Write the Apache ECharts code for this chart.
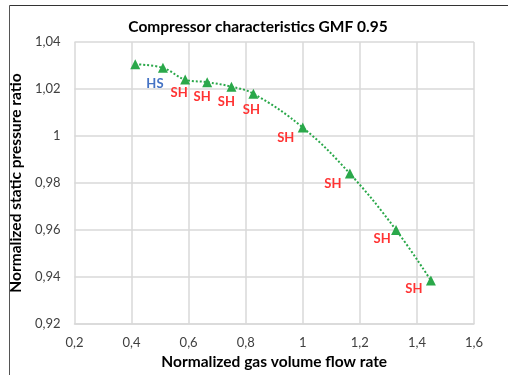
<!DOCTYPE html>
<html>
<head>
<meta charset="utf-8">
<script src="https://cdn.jsdelivr.net/npm/echarts@6/dist/echarts.min.js"></script>
<style>html,body{margin:0;padding:0;background:#fff;}#c{width:508px;height:375px;}</style>
</head>
<body>
<div id="c"></div>
<script>
// Data
var flowRate = [0.413, 0.51, 0.588, 0.665, 0.75, 0.827, 1.0, 1.165, 1.327, 1.449];
var pressureRatio = [1.0305, 1.029, 1.024, 1.0229, 1.021, 1.018, 1.0036, 0.984, 0.960, 0.9385];
var pointLabels = ['', 'HS', 'SH', 'SH', 'SH', 'SH', 'SH', 'SH', 'SH', 'SH'];
// label placement (style only)
var labelOffsets = [[0,0],[-8,16],[-6,13],[-5,15],[-5,15],[-2,16],[-17,10],[-17,10],[-14,9],[-17,8]];

var FONT = 'Lato';
function fmt(v){ return String(+(+v).toFixed(2)).replace('.', ','); }

var data = flowRate.map(function(x, i){
  return {
    value: [x, pressureRatio[i]],
    label: {
      show: pointLabels[i] !== '',
      offset: labelOffsets[i],
      color: pointLabels[i] === 'HS' ? '#4472c4' : '#ff3333'
    }
  };
});

var chart = echarts.init(document.getElementById('c'), null, {renderer: 'canvas'});
chart.setOption({
  animation: false,
  backgroundColor: '#fff',
  title: {
    text: 'Compressor characteristics GMF 0.95',
    left: 253, top: 14, textAlign: 'center',
    textStyle: {fontFamily: FONT, fontWeight: 'bold', fontSize: 15.5, color: '#000'}
  },
  grid: {left: 73, right: 34, top: 42, bottom: 47, containLabel: false},
  xAxis: {
    type: 'value', min: 0.2, max: 1.6, interval: 0.2,
    name: 'Normalized gas volume flow rate', nameLocation: 'middle', nameGap: 30,
    nameTextStyle: {fontFamily: FONT, fontWeight: 'bold', fontSize: 15.5, color: '#000'},
    axisLine: {show: true, lineStyle: {color: '#d9d9d9', width: 1.5}},
    axisTick: {show: false},
    axisLabel: {formatter: fmt, fontFamily: FONT, fontSize: 13, color: '#404040', margin: 12},
    splitLine: {show: true, lineStyle: {color: '#d9d9d9', width: 1.5}}
  },
  yAxis: {
    type: 'value', min: 0.92, max: 1.04, interval: 0.02,
    name: 'Normalized static pressure ratio', nameLocation: 'middle', nameGap: 42,
    nameTextStyle: {fontFamily: FONT, fontWeight: 'bold', fontSize: 15.5, color: '#000'},
    axisLine: {show: false},
    axisTick: {show: false},
    axisLabel: {formatter: fmt, fontFamily: FONT, fontSize: 13, color: '#404040', margin: 14},
    splitLine: {show: true, lineStyle: {color: '#d9d9d9', width: 1.5}}
  },
  series: [{
    type: 'line',
    data: data,
    smooth: 0.4,
    symbol: 'triangle',
    symbolSize: 10,
    itemStyle: {color: '#2aa84a'},
    lineStyle: {color: '#2aa84a', width: 2, type: 'dotted'},
    label: {
      show: true, position: 'inside',
      formatter: function(p){ return pointLabels[p.dataIndex]; },
      fontFamily: FONT, fontWeight: 'bold', fontSize: 13
    }
  }],
  graphic: [
    {type: 'line', shape: {x1: 9.5, y1: 5.5, x2: 508, y2: 5.5}, style: {stroke: '#333', lineWidth: 1}},
    {type: 'line', shape: {x1: 9.5, y1: 5.5, x2: 9.5, y2: 375}, style: {stroke: '#555', lineWidth: 1}}
  ]
});
</script>
</body>
</html>
